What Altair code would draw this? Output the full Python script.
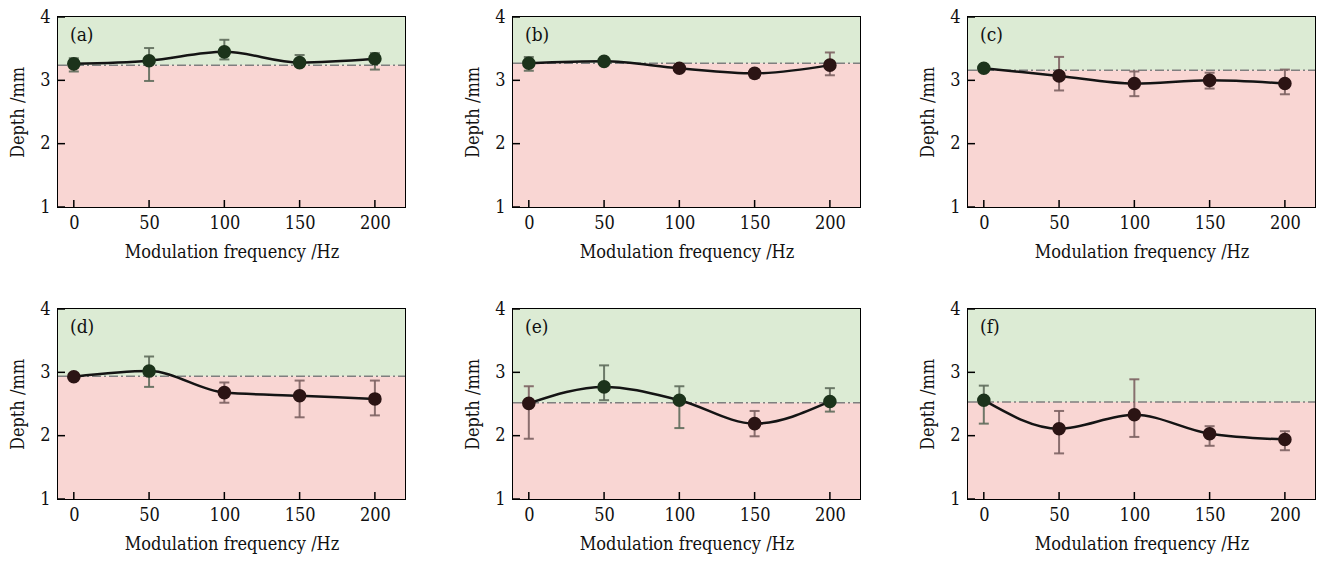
import altair as alt
import pandas as pd

# ---- data ----
labels = ["(a)", "(b)", "(c)", "(d)", "(e)", "(f)"]
freq = [0, 50, 100, 150, 200]

depth_a = [3.26, 3.31, 3.45, 3.28, 3.34]
hi_a = [3.35, 3.51, 3.64, 3.40, 3.43]
lo_a = [3.14, 2.99, 3.33, 3.23, 3.17]

depth_b = [3.27, 3.30, 3.19, 3.11, 3.24]
hi_b = [3.37, 3.33, 3.22, 3.17, 3.44]
lo_b = [3.15, 3.27, 3.16, 3.04, 3.08]

depth_c = [3.19, 3.07, 2.95, 3.00, 2.95]
hi_c = [3.22, 3.37, 3.14, 3.12, 3.17]
lo_c = [3.16, 2.84, 2.75, 2.87, 2.78]

depth_d = [2.93, 3.02, 2.68, 2.63, 2.58]
hi_d = [2.96, 3.25, 2.84, 2.87, 2.87]
lo_d = [2.90, 2.77, 2.52, 2.29, 2.32]

depth_e = [2.51, 2.77, 2.56, 2.19, 2.54]
hi_e = [2.78, 3.11, 2.78, 2.39, 2.75]
lo_e = [1.95, 2.56, 2.12, 1.99, 2.38]

depth_f = [2.56, 2.11, 2.33, 2.03, 1.94]
hi_f = [2.79, 2.39, 2.89, 2.15, 2.07]
lo_f = [2.19, 1.72, 1.98, 1.84, 1.77]

thresholds = [3.24, 3.27, 3.16, 2.94, 2.52, 2.53]

y_ticks = [1, 2, 3, 4]
x_ticks = [0, 50, 100, 150, 200]

series = [
    (depth_a, hi_a, lo_a), (depth_b, hi_b, lo_b), (depth_c, hi_c, lo_c),
    (depth_d, hi_d, lo_d), (depth_e, hi_e, lo_e), (depth_f, hi_f, lo_f),
]

# ---- styling ----
W, H = 347, 190
FONT = "'DejaVu Serif Condensed', 'DejaVu Serif', serif"
GREEN_BG = "#dcebd4"
RED_BG = "#f9d6d3"
PT_GREEN = "#1c331b"
PT_RED = "#2b1414"

xscale = alt.Scale(domain=[-10.5, 220], nice=False, zero=False)
yscale = alt.Scale(domain=[1, 4], nice=False, zero=False)
xaxis = alt.Axis(values=x_ticks, title="Modulation frequency /Hz", ticks=False,
                 domain=False, grid=False, labelPadding=7, titlePadding=11)
yaxis = alt.Axis(values=y_ticks, title="Depth /mm", ticks=False, domain=False,
                 grid=False, labelPadding=8, titlePadding=12)


def panel(i):
    depth, hi, lo = series[i]
    thr = thresholds[i]
    df = pd.DataFrame({"f": freq, "depth": depth, "hi": hi, "lo": lo})

    X = alt.X("f:Q", scale=xscale, axis=xaxis)
    Y = alt.Y("depth:Q", scale=yscale, axis=yaxis)

    bg_df = pd.DataFrame({"y": [thr, 1], "y2": [4, thr], "zone": ["up", "down"]})
    bg = alt.Chart(bg_df).mark_rect().encode(
        y=alt.Y("y:Q", scale=yscale, axis=yaxis),
        y2="y2:Q",
        x=alt.value(0), x2=alt.value(W),
        color=alt.condition("datum.zone == 'up'", alt.value(GREEN_BG), alt.value(RED_BG)),
    )

    thr_df = pd.DataFrame({"t": [thr]})
    thr_line = alt.Chart(thr_df).mark_rule(
        color="#7f7f7f", strokeWidth=1.5, strokeDash=[9, 3, 2, 3]
    ).encode(y=alt.Y("t:Q", scale=yscale, axis=yaxis), x=alt.value(0), x2=alt.value(W))

    err_color = alt.condition(f"datum.depth >= {thr}", alt.value("#5f6d5c"), alt.value("#7d6363"))
    err = alt.Chart(df).mark_rule(strokeWidth=2, opacity=0.9).encode(
        x=X, y=alt.Y("lo:Q", scale=yscale, axis=yaxis), y2="hi:Q", color=err_color)
    cap_lo = alt.Chart(df).mark_tick(orient="horizontal", size=10, thickness=2, opacity=0.9).encode(
        x=X, y=alt.Y("lo:Q", scale=yscale, axis=yaxis), color=err_color)
    cap_hi = alt.Chart(df).mark_tick(orient="horizontal", size=10, thickness=2, opacity=0.9).encode(
        x=X, y=alt.Y("hi:Q", scale=yscale, axis=yaxis), color=err_color)

    line = alt.Chart(df).mark_line(color="#141414", strokeWidth=2.5, interpolate="monotone").encode(x=X, y=Y)
    pts = alt.Chart(df).mark_circle(size=185, opacity=1).encode(
        x=X, y=Y,
        color=alt.condition(f"datum.depth >= {thr}", alt.value(PT_GREEN), alt.value(PT_RED)),
    )

    yt = alt.Chart(pd.DataFrame({"t": y_ticks})).mark_rule(color="black", strokeWidth=1.5).encode(
        y=alt.Y("t:Q", scale=yscale, axis=yaxis), x=alt.value(0), x2=alt.value(7))
    xt = alt.Chart(pd.DataFrame({"t": x_ticks})).mark_rule(color="black", strokeWidth=1.5).encode(
        x=alt.X("t:Q", scale=xscale, axis=xaxis), y=alt.value(H), y2=alt.value(H - 7))

    lab = alt.Chart(pd.DataFrame({"t": [labels[i]]})).mark_text(
        align="left", baseline="top", font=FONT, fontSize=19, color="#111"
    ).encode(x=alt.value(12), y=alt.value(9), text="t:N")

    return alt.layer(bg, thr_line, err, cap_lo, cap_hi, line, pts, yt, xt, lab).properties(width=W, height=H)


row1 = alt.hconcat(panel(0), panel(1), panel(2), spacing=56)
row2 = alt.hconcat(panel(3), panel(4), panel(5), spacing=56)
chart = alt.vconcat(row1, row2, spacing=37).properties(
    padding={"left": 8, "top": 7, "right": 4, "bottom": 4}
).configure_view(stroke="black", strokeWidth=2).configure_axis(
    labelFont=FONT, labelFontSize=18, labelColor="#111",
    titleFont=FONT, titleFontSize=18, titleFontWeight="normal", titleColor="#111",
)

chart.save("out.html", embed_options={"renderer": "svg", "actions": False})
